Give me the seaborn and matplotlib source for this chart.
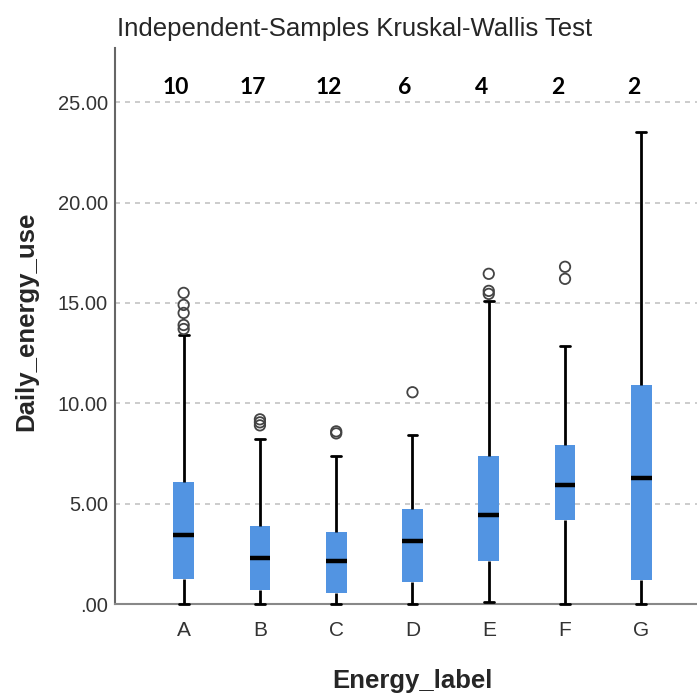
import matplotlib
matplotlib.use('Agg')
import matplotlib.pyplot as plt
import pandas as pd
import seaborn as sns

# group labels and counts shown above each box
labels = ['A', 'B', 'C', 'D', 'E', 'F', 'G']
counts = [10, 17, 12, 6, 4, 2, 2]

# five-number summary
whisker_low = [0.0, 0.0, 0.0, 0.0, 0.1, 0.0, 0.0]
q1 = [1.25, 0.68, 0.55, 1.08, 2.15, 4.16, 1.2]
median = [3.46, 2.28, 2.13, 3.13, 4.42, 5.91, 6.3]
q3 = [6.1, 3.9, 3.58, 4.75, 7.38, 7.94, 10.9]
whisker_high = [13.4, 8.2, 7.38, 8.43, 15.08, 12.85, 23.5]

# outlier circles
outlier_labels = ['A'] * 5 + ['B'] * 3 + ['C'] * 2 + ['D'] + ['E'] * 3 + ['F'] * 2
outlier_values = [15.5, 14.9, 14.5, 13.9, 13.7,
                  9.2, 9.05, 8.9,
                  8.6, 8.5,
                  10.55,
                  16.45, 15.6, 15.45,
                  16.8, 16.2]

yticks = [0, 5, 10, 15, 20, 25]

sns.set_style('white')
plt.rcParams['font.family'] = ['Liberation Sans', 'DejaVu Sans']

box_df = pd.DataFrame({
    'Energy_label': [lab for lab in labels for _ in range(5)],
    'Daily_energy_use': [v for i in range(len(labels))
                         for v in (whisker_low[i], q1[i], median[i], q3[i], whisker_high[i])],
})
out_df = pd.DataFrame({'Energy_label': outlier_labels, 'Daily_energy_use': outlier_values})

fig = plt.figure(figsize=(6.97, 6.95), dpi=100)
ax = fig.add_axes([115 / 697, 1 - 604 / 695, 582 / 697, 556 / 695])

box_color = '#5294E2'
sns.boxplot(data=box_df, x='Energy_label', y='Daily_energy_use', order=labels,
            whis=(0, 100), width=0.27, color=box_color, saturation=1,
            linecolor='black', linewidth=2, ax=ax,
            boxprops=dict(edgecolor=box_color, linewidth=0),
            medianprops=dict(color='black', linewidth=3.2),
            capwidths=0.13)
# keep the caps at zero visible on top of the bottom spine
for line in ax.lines:
    line.set_clip_on(False)
    line.set_zorder(4)

sns.stripplot(data=out_df, x='Energy_label', y='Daily_energy_use', order=labels,
              jitter=False, size=7.5, color='white', edgecolor='#444444',
              linewidth=1.3, ax=ax, zorder=5)
for coll in ax.collections:
    coll.set_facecolor('none')
    coll.set_edgecolor('#444444')

for i, c in enumerate(counts):
    ax.text(i - 0.1, 25.75, str(c), ha='center', va='center', color='black',
            fontsize=16.5, fontweight='bold', family=['Lato', 'DejaVu Sans'])

ax.set_xlim(-0.9, 6.73)
ax.set_ylim(0, 27.7)
ax.set_yticks(yticks)
ax.set_yticklabels(['.00' if t == 0 else f'{t:.2f}' for t in yticks])
ax.yaxis.grid(True, linestyle=(0, (3, 3)), color='#c4c4c4', linewidth=1.2)
ax.set_axisbelow(True)

ax.tick_params(axis='y', length=0, pad=5, labelsize=14.5, labelcolor='#333333')
ax.tick_params(axis='x', length=0, pad=12, labelsize=15, labelcolor='#333333')

for side in ['top', 'right']:
    ax.spines[side].set_visible(False)
ax.spines['left'].set_color('#666666')
ax.spines['left'].set_linewidth(1.5)
ax.spines['bottom'].set_color('#888888')
ax.spines['bottom'].set_linewidth(1.5)

ax.set_xlabel('Energy_label', fontsize=18.5, fontweight='bold', va='center')
ax.xaxis.set_label_coords((412 - 115) / 582, (604 - 681) / 556)
ax.set_ylabel('Daily_energy_use', fontsize=18.5, fontweight='bold', va='center')
ax.yaxis.set_label_coords((26 - 115) / 582, (604 - 321) / 556)

fig.text(355 / 697, 1 - 29 / 695, 'Independent-Samples Kruskal-Wallis Test',
         ha='center', va='center', fontsize=18.5)

fig.savefig('out.png', dpi=100)
plt.close()
